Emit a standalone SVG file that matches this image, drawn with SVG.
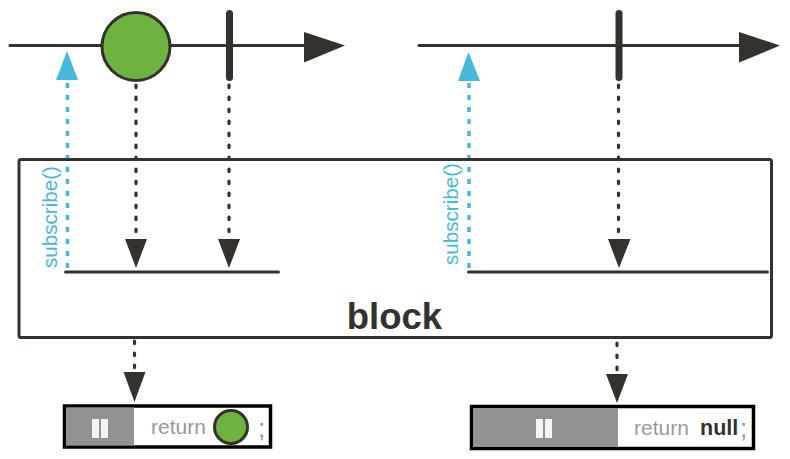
<svg xmlns="http://www.w3.org/2000/svg" width="790" height="459" viewBox="0 0 790 459">
<style>
.ln{stroke:#35312c;stroke-width:3;fill:none;stroke-linecap:round}
.tick{stroke:#35312c;stroke-width:7;stroke-linecap:round;fill:none}
.dot{stroke:#35312c;stroke-width:3.200;fill:none;stroke-dasharray:2.600 9.400;stroke-linecap:round}
.bdot{stroke:#45b8de;stroke-width:3.500;fill:none;stroke-dasharray:5 7}
.ah{fill:#35312c}
.bh{fill:#45b8de}
.sub{font:20.6px "Liberation Sans",Arial,sans-serif;fill:#45b8de}
.ret{font:21px "Liberation Sans",Arial,sans-serif;fill:#999}
.semi{font:26px "Liberation Sans",Arial,sans-serif;fill:#999}
.gr{fill:#6db33f;stroke:#35312c;stroke-width:3}
.box{fill:#fff;stroke:#000;stroke-width:3.500}
</style>
<rect width="790" height="459" fill="#fff"/>
<g id="connectors">
<path class="bdot" d="M67.500 268V80"/>
<path class="dot" d="M136 85V240M229 85V240M618.500 85V240M134.500 341V372M617 343V374"/>
<path class="bdot" d="M469 268V82"/>
<path class="bh" d="M67 51L78 80H56Z"/>
<path class="bh" d="M468.500 52L480 81H458Z"/>
<path class="ah" d="M125 239H147L136 268ZM218 239H240L229 268ZM608 239H630.500L619 268ZM123.500 372H145.500L134.500 402ZM606 374H628L617 403Z"/>
</g>
<g id="timeline-left">
<path class="ln" d="M10 45.500H310"/>
<path class="ah" d="M304 32L345 45.500L304 62.500Z"/>
<circle class="gr" cx="136" cy="46.500" r="34"/>
<path class="tick" d="M229.500 13.500V77.500"/>
</g>
<g id="timeline-right">
<path class="ln" d="M419 45.500H745"/>
<path class="ah" d="M739 32L780 45.500L739 62.500Z"/>
<path class="tick" d="M619 13.500V77.500"/>
</g>
<g id="block">
<rect x="19" y="159.500" width="752.500" height="178" rx="2" fill="none" stroke="#35312c" stroke-width="3"/>
<path class="ln" d="M65.500 272H278.500M468.500 272H767.500"/>
<text x="394.500" y="329" text-anchor="middle" font-family="'Liberation Sans',Arial,sans-serif" font-weight="700" font-size="36.500" fill="#35312c">block</text>
</g>
<g id="subscribe-left"><text class="sub" transform="translate(57 268) rotate(-90)">subscribe()</text></g>
<g id="subscribe-right"><text class="sub" transform="translate(458 265) rotate(-90)">subscribe()</text></g>
<g id="result-left">
<rect class="box" x="64.500" y="406" width="206" height="41"/>
<rect x="66" y="407.500" width="68" height="38" fill="#929292"/>
<path fill="#f4f4f4" d="M92 419h7v19h-7zM101 419h7v19h-7z"/>
<text class="ret" x="151" y="434">return</text>
<circle class="gr" cx="231" cy="427" r="16.500"/>
<text class="semi" x="258" y="437">;</text>
</g>
<g id="result-right">
<rect class="box" x="471.500" y="406.500" width="282" height="42"/>
<rect x="473" y="408" width="145" height="39" fill="#929292"/>
<path fill="#f4f4f4" d="M536 419h7v19h-7zM545 419h7v19h-7z"/>
<text class="ret" x="634" y="435">return</text>
<text x="700" y="435" font-family="'Liberation Sans',Arial,sans-serif" font-weight="700" font-size="21.500" fill="#35312c">null</text>
<text class="semi" x="740" y="437">;</text>
</g>
</svg>
